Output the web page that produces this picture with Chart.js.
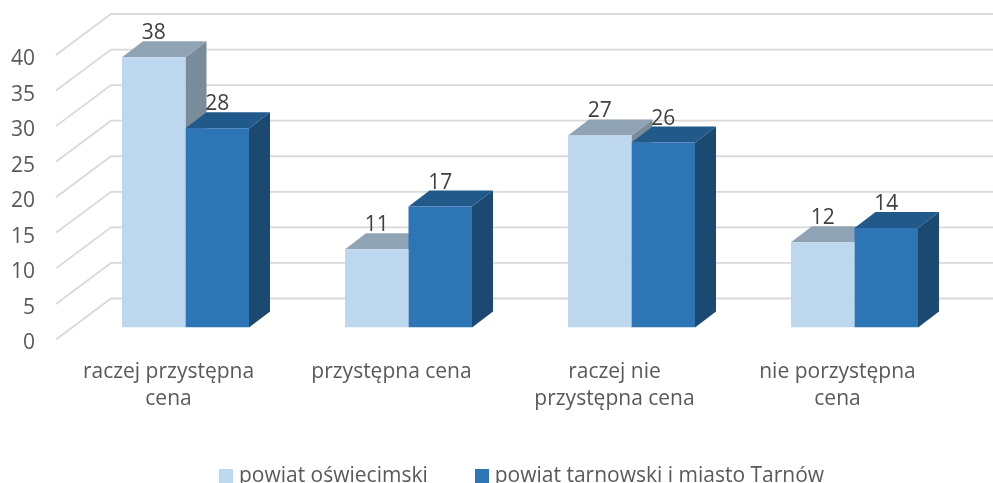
<!DOCTYPE html>
<html><head><meta charset="utf-8">
<style>html,body{margin:0;padding:0;background:#fff}#w{width:993px;height:483px;position:relative}</style>
<script src="https://cdn.jsdelivr.net/npm/chart.js@4"></script></head>
<body><div id="w"><canvas id="c" width="993" height="483"></canvas></div>
<script>
const categories = [["raczej przystępna","cena"],["przystępna cena"],["raczej nie","przystępna cena"],["nie porzystępna","cena"]];
const seriesNames = ["powiat oświecimski","powiat tarnowski i miasto Tarnów"];
const oswiecimski = [38,11,27,12];
const tarnowski = [28,17,26,14];
const yTicks = [0,5,10,15,20,25,30,35,40];
const FONT = "'Open Sans', sans-serif";
const FS = 21;
const TXT = "#595959";
const faces = [
  {front:"#BDD7EE", top:"#8FA3B5", side:"#7A8B9A"},
  {front:"#2E75B6", top:"#22598B", side:"#1C4972"}
];
const wall = {bx:37, by:-29, fx:-18, fy:12};
const barDepth = {x:21, y:-16};

function swatch(color){
  const c=document.createElement("canvas");c.width=14;c.height=14;
  const g=c.getContext("2d");g.fillStyle=color;g.fillRect(0,0,14,14);
  return c;
}

const plugin3d = {
  id:"plugin3d",
  afterLayout(chart){
    const l=chart.legend;
    l.left+=40.75;l.right+=40.75;
    l.top=476-51.5-FS/2;
    chart.scales.x.bottom=440;
  },
  beforeDatasetsDraw(chart){
    const {ctx,scales:{y},chartArea:a}=chart;
    ctx.save();
    ctx.strokeStyle="#D9D9D9";ctx.lineWidth=1.8;
    y.ticks.forEach(t=>{
      const p=y.getPixelForValue(t.value);
      ctx.beginPath();
      ctx.moveTo(a.left+wall.fx,p+wall.fy);
      ctx.lineTo(a.left+wall.bx,p+wall.by);
      ctx.lineTo(chart.width,p+wall.by);
      ctx.stroke();
    });
    // side and top faces of the bars, first series first; the fronts are drawn by the library afterwards
    const d=barDepth;
    chart.data.datasets.forEach((ds,i)=>{
      const f=faces[i];
      chart.getDatasetMeta(i).data.forEach(b=>{
        const {x,y:yy,base,width}=b.getProps(["x","y","base","width"],false);
        const l=x-width/2,r=x+width/2;
        ctx.fillStyle=f.side;
        ctx.beginPath();ctx.moveTo(r,yy);ctx.lineTo(r+d.x,yy+d.y);ctx.lineTo(r+d.x,base+d.y);ctx.lineTo(r,base);ctx.closePath();ctx.fill();
        ctx.fillStyle=f.top;
        ctx.beginPath();ctx.moveTo(l,yy);ctx.lineTo(l+d.x,yy+d.y);ctx.lineTo(r+d.x,yy+d.y);ctx.lineTo(r,yy);ctx.closePath();ctx.fill();
      });
    });
    ctx.restore();
  },
  afterDatasetsDraw(chart){
    const {ctx}=chart;
    ctx.save();
    ctx.font=FS+"px "+FONT;ctx.fillStyle="#404040";ctx.textAlign="center";ctx.textBaseline="middle";
    chart.data.datasets.forEach((ds,i)=>{
      chart.getDatasetMeta(i).data.forEach((b,j)=>{
        ctx.fillText(String(ds.data[j]),b.x,b.y-24);
      });
    });
    ctx.restore();
  }
};

new Chart(document.getElementById("c"),{
  type:"bar",
  data:{labels:categories,datasets:[
    {label:seriesNames[0],data:oswiecimski,backgroundColor:faces[0].front,pointStyle:swatch(faces[0].front)},
    {label:seriesNames[1],data:tarnowski,backgroundColor:faces[1].front,pointStyle:swatch(faces[1].front)}
  ]},
  plugins:[plugin3d],
  options:{
    responsive:false,animation:false,
    layout:{padding:{top:43,right:27,left:0,bottom:0}},
    datasets:{bar:{categoryPercentage:127/223,barPercentage:1}},
    plugins:{
      legend:{position:"bottom",align:"center",
        labels:{color:TXT,font:{family:FONT,size:FS},usePointStyle:true,pointStyleWidth:5,padding:51.5}},
      tooltip:{enabled:false}
    },
    scales:{
      y:{min:0,max:40,
        afterBuildTicks(s){s.ticks=yTicks.map(v=>({value:v}));},
        afterFit(s){s.width=74;s.paddingTop=0;s.paddingBottom=0;},
        grid:{display:false},border:{display:false},
        ticks:{color:TXT,font:{family:FONT,size:FS},labelOffset:16,padding:31}
      },
      x:{
        afterFit(s){s.height=73;},
        grid:{display:false},border:{display:false},
        ticks:{color:TXT,font:{family:FONT,size:FS,lineHeight:27/21},labelOffset:-17,padding:23.5,maxRotation:0,autoSkip:false}
      }
    }
  }
});
</script></body></html>
